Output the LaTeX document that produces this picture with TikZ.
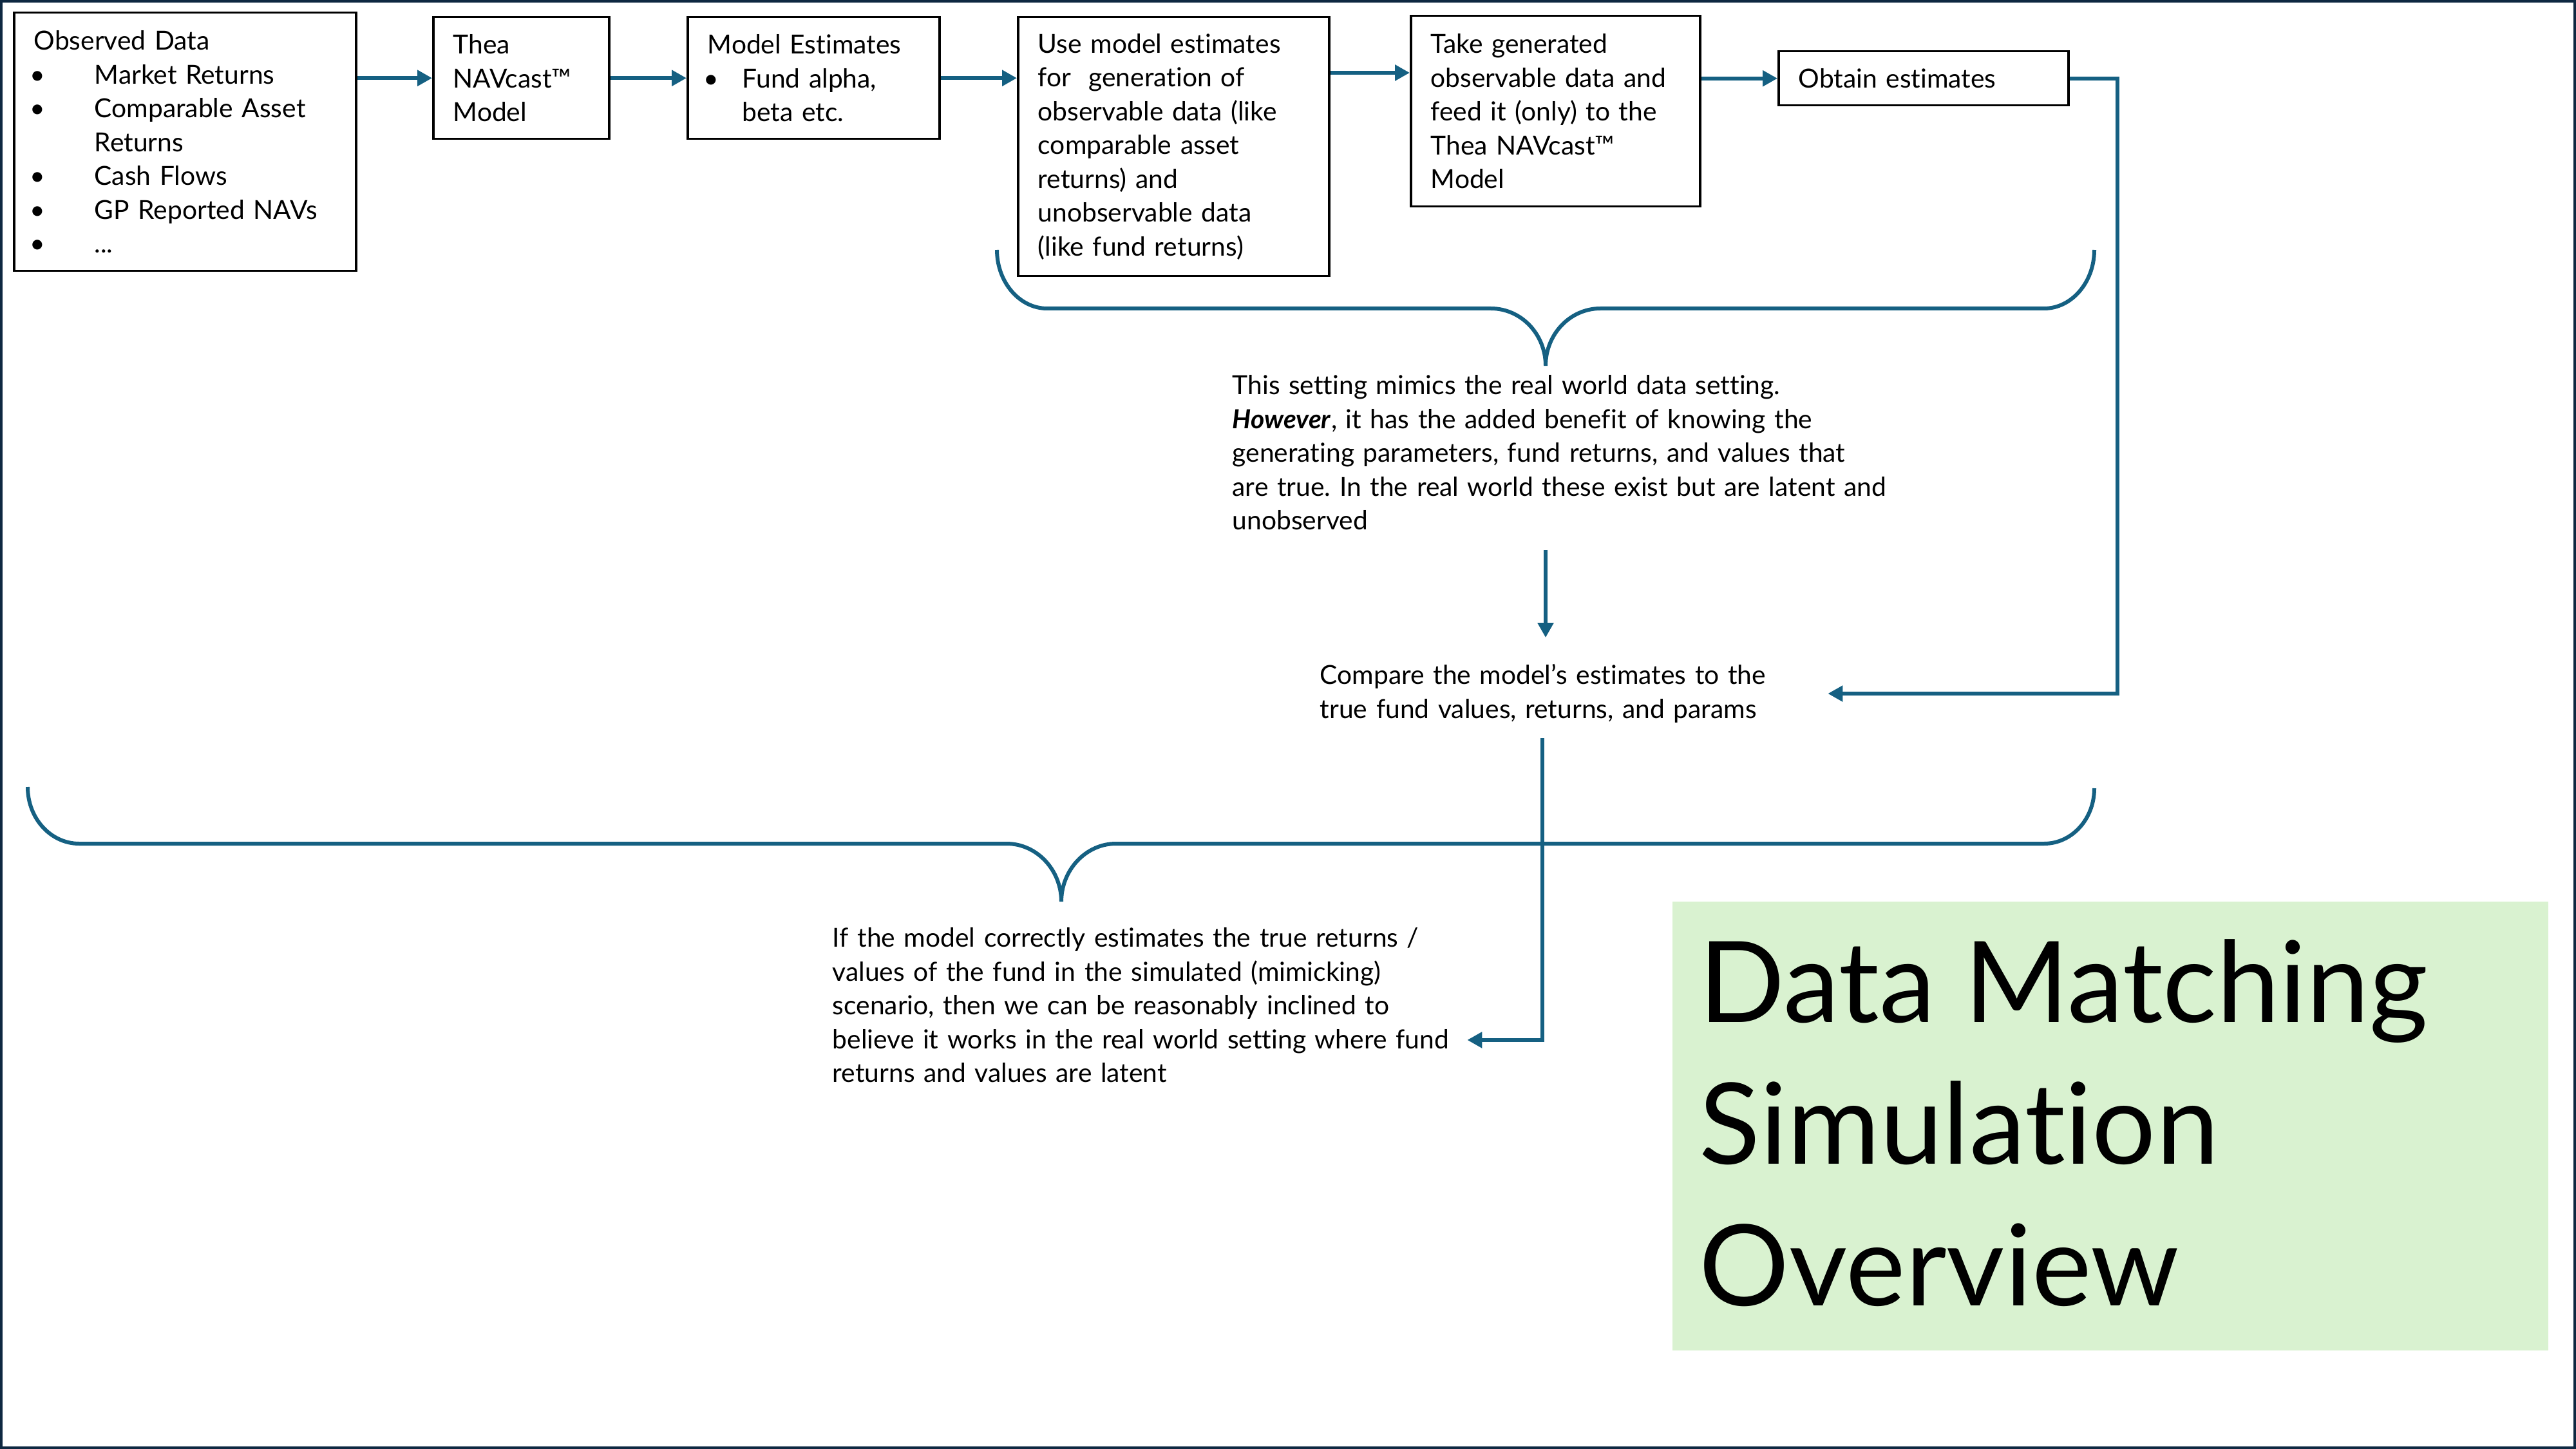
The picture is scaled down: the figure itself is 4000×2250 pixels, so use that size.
\documentclass[tikz,border=0pt]{standalone}
\usepackage{fontspec}
\setmainfont{Lato}[Ligatures=NoCommon]
\usetikzlibrary{arrows.meta,calc}
\definecolor{arrowblue}{HTML}{156082}
\definecolor{slideframe}{HTML}{0E2841}
\definecolor{titlegreen}{HTML}{D9F2D0}
\newcommand{\bodyfont}{\frenchspacing\fontsize{11.6pt}{14.94pt}\selectfont}
\newcommand{\titlefont}{\fontsize{49.8pt}{62.6pt}\selectfont}
\begin{document}
\begin{tikzpicture}[x=0.1mm,y=-0.1mm,
  box/.style={draw=black, line width=0.35mm, anchor=north west, inner xsep=3.1mm, inner ysep=0pt, align=left, font=\bodyfont},
  txt/.style={anchor=north west, inner sep=0pt, align=left, font=\bodyfont},
  arr/.style={draw=arrowblue, line width=0.6mm, -{Triangle[length=2.3mm,width=2.4mm]}},
  bracepath/.style={draw=arrowblue, line width=0.6mm}]
\useasboundingbox (0,0) rectangle (4000,2250);
\draw[slideframe, line width=0.4mm] (2,2) rectangle (3998,2248);

% green title panel
\fill[titlegreen] (2597,1400) rectangle (3957,2097);
\node[anchor=north west, inner sep=0pt, align=left, font=\titlefont] (title) at (2638,1458)
  {Data Matching\\Simulation\\Overview};

% top row boxes
\node[box, text width=46.9mm, minimum height=40.1mm] (obs) at (20,18)
  {Observed Data\\
   \hspace*{-0.6mm}\makebox[10mm][l]{•}Market Returns\\
   \hspace*{-0.6mm}\makebox[10mm][l]{•}Comparable Asset\\
   \hspace*{9.4mm}Returns\\
   \hspace*{-0.6mm}\makebox[10mm][l]{•}Cash Flows\\
   \hspace*{-0.6mm}\makebox[10mm][l]{•}GP Reported NAVs\\
   \hspace*{-0.6mm}\makebox[10mm][l]{•}...};
\node[box, text width=21.1mm, minimum height=18.9mm] (thea) at (671,25)
  {Thea\\NAVcast™\\Model};
\node[box, text width=32.9mm, minimum height=18.9mm] (est) at (1066,25)
  {Model Estimates\\
   \hspace*{-0.6mm}\makebox[6mm][l]{•}Fund alpha,\\
   \hspace*{5.4mm}beta etc.};
\node[box, text width=42.1mm, minimum height=40.2mm] (gen) at (1579,25)
  {Use model estimates\\for~ generation of\\observable data (like\\comparable asset\\returns) and\\unobservable data\\(like fund returns)};
\node[box, text width=38.7mm, minimum height=29.6mm] (feed) at (2189,23)
  {Take generated\\observable data and\\feed it (only) to the\\Thea NAVcast™\\Model};
\node[box, text width=38.8mm, minimum height=8.4mm] (obt) at (2760,78)
  {Obtain estimates};

% free texts
\node[txt, text width=110mm] (mimic) at (1913,582)
  {This setting mimics the real world data setting.\\
   \textbf{\textit{However}}, it has the added benefit of knowing the\\
   generating parameters, fund returns, and values that\\
   are true. In the real world these exist but are latent and\\
   unobserved};
\node[txt, text width=78.8mm] (cmp) at (2049,1031)
  {Compare the model’s estimates to the\\true fund values, returns, and params};
\node[txt, text width=98.5mm] (bot) at (1292,1440)
  {If the model correctly estimates the true returns /\\
   values of the fund in the simulated (mimicking)\\
   scenario, then we can be reasonably inclined to\\
   believe it works in the real world setting where fund\\
   returns and values are latent};

% braces
\coordinate (tip1) at (2400,568);
\coordinate (tip2) at (1648,1400);
\draw[bracepath] (1548,388) .. controls (1548,438) and (1583,479) .. (1626,479)
  -- (2315,479) .. controls (2362,479) and (2400,519) .. (tip1)
  .. controls (2400,519) and (2438,479) .. (2485,479)
  -- (3174,479) .. controls (3217,479) and (3252,438) .. (3252,388);
\draw[bracepath] (43,1222) .. controls (43,1271) and (79,1310) .. (123,1310)
  -- (1563,1310) .. controls (1610,1310) and (1648,1351) .. (tip2)
  .. controls (1648,1351) and (1686,1310) .. (1733,1310)
  -- (3174,1310) .. controls (3217,1310) and (3252,1272) .. (3252,1224);

% connectors
\draw[arr] (obs.east |- thea.west) -- (thea.west);
\draw[arr] (thea.east) -- (thea.east -| est.west);
\draw[arr] (est.east) -- (est.east -| gen.west);
\draw[arr] ($(gen.north east)+(0,88)$) coordinate (a45) -- (a45 -| feed.west);
\draw[arr] (feed.east |- obt.west) -- (obt.west);
\draw[arr] (obt.east) -- ++(74,0) |- (cmp.east);
\draw[arr, shorten <=3mm, shorten >=4.1mm] (mimic.south -| tip1) -- (cmp.north -| tip1);
\coordinate (drop) at (2395,0);
\draw[arr, shorten <=2.3mm] (cmp.south -| drop) |- ($(bot.east)+(0,54)$);
\end{tikzpicture}
\end{document}
